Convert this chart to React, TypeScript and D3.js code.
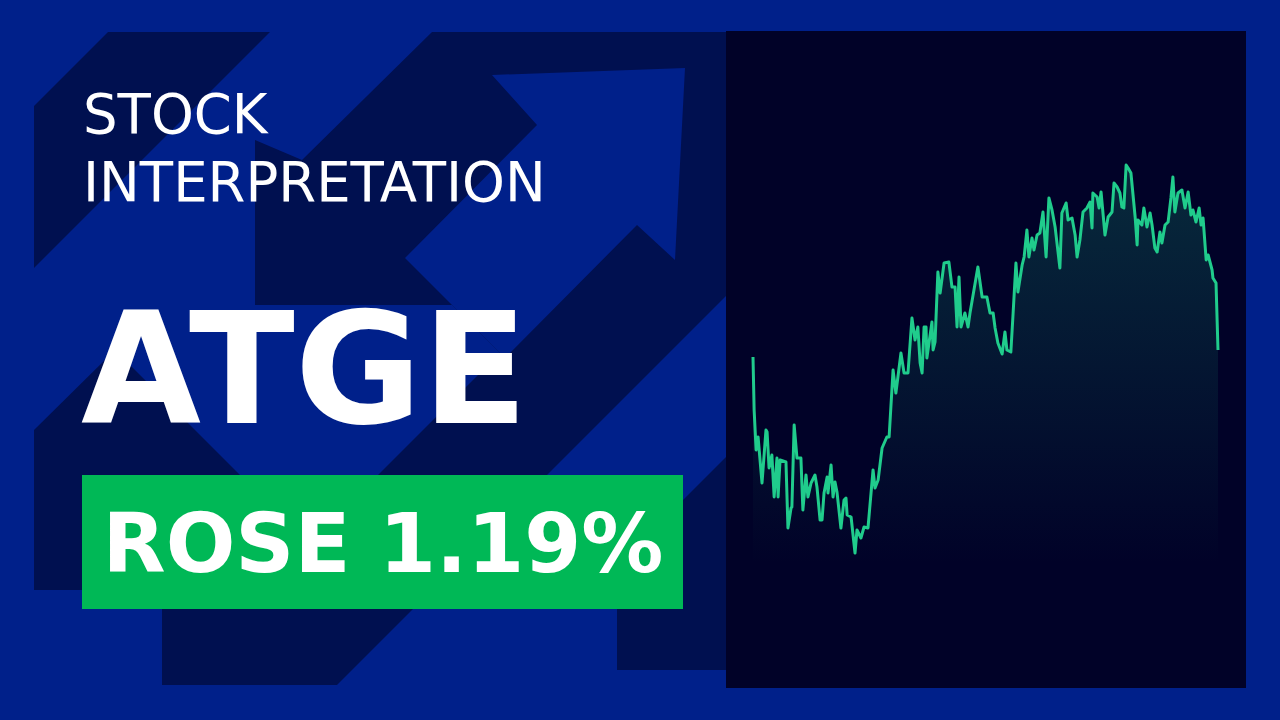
import { useEffect, useRef } from 'react';
import * as d3 from 'd3';

const W = 1280;
const H = 720;

// trading session of each reading (sessions since the start of the window)
const sessions = [
    0, 0.4, 1.1, 1.8, 3.2, 4.6, 5.0, 5.7, 6.7, 7.5,
    8.5, 8.9, 9.6, 11.7, 12.4, 13.5, 13.8, 14.6, 15.6, 17.0,
    17.7, 18.8, 19.5, 20.6, 22.0, 22.7, 23.8, 24.5, 25.2, 26.3,
    26.6, 27.7, 28.4, 29.1, 29.8, 31.2, 32.3, 33.0, 33.4, 34.8,
    36.2, 36.9, 38.3, 39.4, 40.8, 42.6, 43.3, 44.4, 45.8, 47.5,
    48.3, 49.7, 50.7, 52.5, 53.6, 55.0, 56.4, 57.5, 58.5, 59.3,
    60.0, 60.7, 61.4, 61.7, 63.5, 63.9, 64.6, 65.6, 66.4, 67.8,
    69.5, 70.6, 71.7, 72.4, 73.1, 73.8, 75.2, 76.3, 77.0, 79.8,
    81.3, 83.0, 84.1, 85.2, 85.9, 86.9, 88.4, 89.4, 90.1, 91.5,
    92.3, 93.3, 94.0, 95.5, 96.2, 97.2, 97.9, 99.0, 99.7, 100.8,
    101.8, 102.9, 104.0, 105.0, 106.1, 107.2, 108.9, 109.6, 111.1, 111.8,
    113.2, 114.3, 115.0, 116.0, 117.1, 118.5, 119.6, 120.3, 120.6, 122.1,
    122.8, 123.5, 124.9, 126.0, 127.4, 128.1, 129.2, 130.2, 130.9, 131.6,
    132.4, 133.1, 134.1, 135.6, 136.3, 136.6, 138.0, 138.7, 139.8, 140.9,
    141.6, 142.6, 143.4, 144.4, 145.1, 146.2, 147.3, 148.3, 149.0, 149.7,
    150.8, 152.2, 153.3, 154.4, 155.4, 156.1, 157.2, 158.3, 159.0, 159.7,
    160.8, 161.5, 162.9, 163.2, 164.3, 165.0,
];

const prices = [
    24.3, 19.0, 15.0, 16.3, 11.7, 17.0, 16.8, 13.2, 14.5, 10.3,
    14.2, 10.3, 14.0, 13.8, 7.2, 9.2, 9.3, 17.5, 14.2, 14.2,
    9.0, 12.5, 10.3, 11.7, 12.5, 11.3, 8.0, 8.0, 10.7, 12.3,
    10.7, 13.5, 10.3, 11.8, 10.8, 7.2, 10.0, 10.2, 8.5, 8.3,
    4.7, 7.0, 6.2, 7.3, 7.2, 13.0, 11.2, 12.0, 15.2, 16.3,
    16.3, 23.0, 20.7, 24.7, 22.7, 22.7, 28.2, 26.0, 27.3, 23.7,
    22.7, 27.3, 27.3, 24.2, 27.8, 25.0, 25.8, 32.8, 30.7, 33.7,
    33.8, 31.3, 31.3, 27.3, 32.3, 27.3, 28.7, 27.3, 28.7, 33.3,
    30.3, 30.3, 28.7, 28.7, 27.2, 25.7, 24.6, 26.8, 25.0, 24.8,
    28.7, 33.7, 30.8, 33.5, 34.3, 37.0, 34.3, 36.2, 35.0, 36.5,
    36.7, 38.8, 34.3, 40.2, 39.0, 37.3, 33.2, 38.7, 39.7, 38.0,
    38.2, 36.5, 34.3, 36.0, 38.8, 39.2, 39.8, 37.2, 40.7, 40.3,
    39.2, 40.8, 36.5, 38.3, 38.8, 41.7, 41.3, 40.7, 39.3, 39.2,
    43.5, 43.2, 42.7, 38.3, 35.5, 38.0, 37.5, 39.2, 37.3, 38.7,
    37.5, 35.2, 34.8, 36.8, 35.7, 37.5, 37.8, 40.2, 42.3, 38.8,
    40.7, 41.0, 39.2, 40.8, 38.5, 39.0, 37.8, 39.2, 37.5, 38.2,
    34.0, 34.5, 33.0, 32.2, 31.7, 25.0,
];

const titleLines = ['STOCK', 'INTERPRETATION'];
const ticker = 'ATGE';
const changeLabel = 'ROSE 1.19%';

const BLUE = '#00208a';
const NAVY = '#001050';
const PANEL = '#010228';
const BADGE = '#00b856';
const LINE = '#20cc8c';
const FONT = '"DejaVu Sans", Verdana, sans-serif';

// background arrow decoration (left panel)
const darkShapes: [number, number][][] = [
    [[108, 32], [270, 32], [34, 268], [34, 106]],
    [[432, 32], [726, 32], [726, 296], [337, 685], [162, 685], [162, 609], [244, 609],
        [500, 353], [452, 305], [255, 305], [255, 140], [302, 160]],
    [[34, 430], [115, 350], [254, 489], [254, 590], [34, 590]],
    [[726, 457], [617, 566], [617, 670], [726, 670]],
];
const lightArrow: [number, number][] = [
    [405, 258], [505, 358], [637, 225], [675, 260], [685, 68], [492, 75], [537, 125],
];

type Pt = { s: number; p: number };

export default function App() {
    const svgRef = useRef<SVGSVGElement>(null);

    useEffect(() => {
        if (!svgRef.current) return;
        const svg = d3.select(svgRef.current);
        svg.selectAll('*').remove();

        svg.append('rect').attr('width', W).attr('height', H).attr('fill', BLUE);

        const defs = svg.append('defs');
        defs.append('clipPath').attr('id', 'decor-clip')
            .append('rect').attr('x', 34).attr('y', 32).attr('width', 692).attr('height', 656);

        const grad = defs.append('linearGradient')
            .attr('id', 'area-fill')
            .attr('gradientUnits', 'userSpaceOnUse')
            .attr('x1', 0).attr('x2', 0).attr('y1', 165).attr('y2', 565);
        grad.append('stop').attr('offset', '0%').attr('stop-color', LINE).attr('stop-opacity', 0.2);
        grad.append('stop').attr('offset', '100%').attr('stop-color', LINE).attr('stop-opacity', 0);

        const decor = svg.append('g').attr('clip-path', 'url(#decor-clip)');
        const poly = d3.line<[number, number]>();
        decor.selectAll('path.dark')
            .data(darkShapes)
            .enter()
            .append('path')
            .attr('class', 'dark')
            .attr('d', d => poly(d) + 'Z')
            .attr('fill', NAVY);
        decor.append('path')
            .attr('d', poly(lightArrow) + 'Z')
            .attr('fill', BLUE);

        // chart panel
        svg.append('rect')
            .attr('x', 726).attr('y', 31)
            .attr('width', 520).attr('height', 657)
            .attr('fill', PANEL);

        const data: Pt[] = prices.map((p, i) => ({ s: sessions[i], p }));
        const x = d3.scaleLinear()
            .domain(d3.extent(sessions) as [number, number])
            .range([753, 1218]);
        const y = d3.scaleLinear()
            .domain(d3.extent(prices) as [number, number])
            .range([553, 165]);

        const area = d3.area<Pt>()
            .x(d => x(d.s))
            .y0(565)
            .y1(d => y(d.p));
        const line = d3.line<Pt>()
            .x(d => x(d.s))
            .y(d => y(d.p));

        svg.append('path').datum(data).attr('d', area).attr('fill', 'url(#area-fill)');
        svg.append('path').datum(data)
            .attr('d', line)
            .attr('fill', 'none')
            .attr('stroke', LINE)
            .attr('stroke-width', 3)
            .attr('stroke-linejoin', 'round');

        // text block
        svg.selectAll('text.title')
            .data(titleLines)
            .enter()
            .append('text')
            .attr('class', 'title')
            .attr('x', 83)
            .attr('y', (_, i) => 133 + i * 68)
            .attr('font-family', FONT)
            .attr('font-size', 54.5)
            .attr('fill', '#ffffff')
            .text(d => d);

        svg.append('text')
            .attr('x', 81).attr('y', 423)
            .attr('font-family', FONT)
            .attr('font-size', 155)
            .attr('font-weight', 700)
            .attr('fill', '#ffffff')
            .text(ticker);

        svg.append('rect')
            .attr('x', 82).attr('y', 475)
            .attr('width', 601).attr('height', 134)
            .attr('fill', BADGE);

        svg.append('text')
            .attr('x', 383).attr('y', 572)
            .attr('text-anchor', 'middle')
            .attr('font-family', FONT)
            .attr('font-size', 82)
            .attr('font-weight', 700)
            .attr('fill', '#ffffff')
            .text(changeLabel);
    }, []);

    return (
        <div style={{ position: 'absolute', left: 0, top: 0 }}>
            <svg ref={svgRef} width={W} height={H} viewBox={`0 0 ${W} ${H}`} style={{ display: 'block' }} />
        </div>
    );
}
